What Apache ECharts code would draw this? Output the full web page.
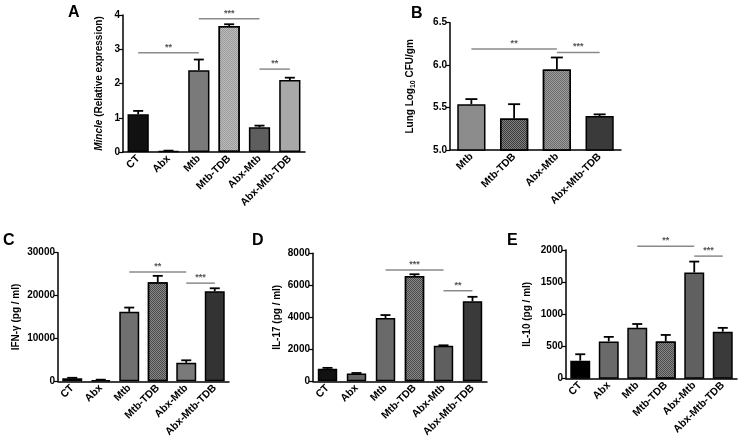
<!DOCTYPE html>
<html><head><meta charset="utf-8">
<script src="https://cdn.jsdelivr.net/npm/echarts@6/dist/echarts.min.js"></script>
<style>html,body{margin:0;padding:0;background:#fff}#c{width:754px;height:441px}</style>
</head><body><div id="c"></div>
<script>
// ---------- data ----------
const groups6 = ['CT','Abx','Mtb','Mtb-TDB','Abx-Mtb','Abx-Mtb-TDB'];
const groups4 = ['Mtb','Mtb-TDB','Abx-Mtb','Abx-Mtb-TDB'];

const mincleMean = [1.1, 0.03, 2.39, 3.68, 0.72, 2.1];
const mincleSem  = [0.1, 0.01, 0.31, 0.05, 0.05, 0.07];

const cfuMean = [5.54, 5.37, 5.95, 5.40];
const cfuSem  = [0.06, 0.17, 0.14, 0.02];

const ifnMean = [700, 300, 16200, 23100, 4300, 21000];
const ifnSem  = [120, 80, 1000, 1500, 600, 700];

const il17Mean = [780, 480, 3960, 6580, 2220, 5000];
const il17Sem  = [60, 40, 180, 110, 30, 280];

const il10Mean = [280, 580, 790, 580, 1650, 730];
const il10Sem  = [100, 70, 60, 100, 170, 60];

// significance brackets: [fromIndex, toIndex, value, label]
const sigA = [[0, 1.9, 2.9, '**'], [2.1, 3.92, 3.89, '***'], [4.05, 5.1, 2.42, '**']];
const sigB = [[-0.05, 1.98, 6.19, '**'], [1.98, 3.03, 6.15, '***']];
const sigC = [[2.1, 4.1, 25500, '**'], [4.06, 5.0, 22900, '***']];
const sigD = [[2.09, 4.05, 6950, '***'], [3.91, 5.02, 5660, '**']];
const sigE = [[1.99, 3.96, 2060, '**'], [3.85, 5.0, 1905, '***']];

// ---------- styles ----------
const pat = {symbol:'rect', symbolSize:1, dashArrayX:[[1,1],[0,1,1,0]], dashArrayY:[1,0], color:'rgba(255,255,255,0.35)'};
const fillsA = ['#111','#555','#7a7a7a','#9a9a9a','#5e5e5e','#a8a8a8'];
const decA   = [0,0,0,1,0,0];
const fillsB = ['#8c8c8c','#3c3c3c','#6a6a6a','#3a3a3a'];
const decB   = [0,1,1,0];
const fillsC = ['#111','#444','#707070','#4a4a4a','#7a7a7a','#333'];
const decC   = [0,0,0,1,0,0];
const fillsD = ['#111','#666','#6a6a6a','#4a4a4a','#5f5f5f','#3a3a3a'];
const decD   = [0,0,0,1,0,0];
const fillsE = ['#000','#6a6a6a','#6e6e6e','#4a4a4a','#606060','#3a3a3a'];
const decE   = [0,0,0,1,0,0];

const FONT = '"Liberation Sans", Arial, sans-serif';

const panels = [
  {cats:groups6, mean:mincleMean, sem:mincleSem, sig:sigA, fills:fillsA, dec:decA,
   grid:{left:123, top:15, width:182, height:137}, min:0, max:4, interval:1, fmt:v=>String(v),
   name:'{i|Mincle} (Relative expression)', nameGap:19, barWidth:'70%', cap:5},
  {cats:groups4, mean:cfuMean, sem:cfuSem, sig:sigB, fills:fillsB, dec:decB,
   grid:{left:450, top:22.7, width:171, height:127.3}, min:5, max:6.5, interval:0.5, fmt:v=>v.toFixed(1),
   name:'Lung Log{s|10} CFU/gm', nameGap:33, barWidth:'66%', cap:6},
  {cats:groups6, mean:ifnMean, sem:ifnSem, sig:sigC, fills:fillsC, dec:decC,
   grid:{left:58, top:252.7, width:171, height:128.6}, min:0, max:30000, interval:10000, fmt:v=>String(v),
   name:'IFN-γ (pg / ml)', nameGap:37, barWidth:'70%', cap:5},
  {cats:groups6, mean:il17Mean, sem:il17Sem, sig:sigD, fills:fillsD, dec:decD,
   grid:{left:313, top:253.3, width:174, height:128}, min:0, max:8000, interval:2000, fmt:v=>String(v),
   name:'IL-17 (pg / ml)', nameGap:31, barWidth:'67%', cap:5},
  {cats:groups6, mean:il10Mean, sem:il10Sem, sig:sigE, fills:fillsE, dec:decE,
   grid:{left:566, top:250, width:171, height:128.7}, min:0, max:2000, interval:500, fmt:v=>String(v),
   name:'IL-10 (pg / ml)', nameGap:34, barWidth:'70%', cap:5}
];

const grids = [], xAxes = [], yAxes = [], series = [];
panels.forEach((p, k) => {
  grids.push(Object.assign({containLabel:false}, p.grid));
  xAxes.push({type:'category', gridIndex:k, data:p.cats,
    axisLine:{lineStyle:{color:'#000', width:1.5}},
    axisTick:{alignWithLabel:true, length:4, lineStyle:{color:'#000', width:1.2}},
    axisLabel:{interval:0, rotate:45, color:'#000', fontWeight:'bold', fontSize:10.5, fontFamily:FONT, margin:5}
  });
  yAxes.push({type:'value', gridIndex:k, min:p.min, max:p.max, interval:p.interval,
    splitLine:{show:false},
    axisLine:{show:true, lineStyle:{color:'#000', width:1.5}},
    axisTick:{show:true, length:4, lineStyle:{color:'#000', width:1.2}},
    axisLabel:{color:'#000', fontWeight:'bold', fontSize:10, fontFamily:FONT, margin:3, formatter:p.fmt},
    name:p.name, nameLocation:'middle', nameRotate:90, nameGap:p.nameGap,
    nameTextStyle:{color:'#000', fontWeight:'bold', fontSize:10, fontFamily:FONT,
      rich:{i:{fontStyle:'italic', fontWeight:'bold', fontSize:10, fontFamily:FONT, color:'#000'},
            s:{fontSize:7, fontWeight:'bold', fontFamily:FONT, color:'#000', padding:[6,0,0,0]}}}
  });
  series.push({type:'bar', xAxisIndex:k, yAxisIndex:k, barWidth:p.barWidth, animation:false,
    data:p.mean.map((v,i)=>({value:v, itemStyle:{color:p.fills[i], borderColor:'#000', borderWidth:1.5,
      decal: p.dec[i] ? pat : null}}))
  });
  // error bars (upper only)
  series.push({type:'custom', xAxisIndex:k, yAxisIndex:k, animation:false, z:5,
    data:p.mean.map((v,i)=>[i, v, v + p.sem[i]]),
    renderItem:(params, api)=>{
      const base = api.coord([api.value(0), api.value(1)]);
      const top = api.coord([api.value(0), api.value(2)]);
      const c = p.cap;
      return {type:'group', children:[
        {type:'line', shape:{x1:base[0], y1:base[1], x2:top[0], y2:top[1]}, style:{stroke:'#000', lineWidth:1.8}},
        {type:'line', shape:{x1:top[0]-c, y1:top[1], x2:top[0]+c, y2:top[1]}, style:{stroke:'#000', lineWidth:1.8}}
      ]};
    }
  });
  // significance brackets
  series.push({type:'custom', xAxisIndex:k, yAxisIndex:k, animation:false, z:6, clip:false,
    data:p.sig.map(s=>[s[0], s[1], s[2], s[3]]),
    renderItem:(params, api)=>{
      const a = api.coord([api.value(0), api.value(2)]);
      const b = api.coord([api.value(1), api.value(2)]);
      const lbl = p.sig[params.dataIndex][3];
      return {type:'group', children:[
        {type:'line', shape:{x1:a[0], y1:a[1], x2:b[0], y2:b[1]}, style:{stroke:'#8a8a8a', lineWidth:1.5}},
        {type:'text', style:{x:(a[0]+b[0])/2, y:a[1]-1, text:lbl, fill:'#555', font:'bold 9px '+FONT,
          textAlign:'center', textVerticalAlign:'bottom'}}
      ]};
    }
  });
});

const letters = [['A',68,5],['B',411,6],['C',3,233],['D',252,233],['E',507,233]];
const graphic = letters.map(l=>({type:'text', left:l[1], top:l[2],
  style:{text:l[0], fill:'#000', font:'bold 16px '+FONT}}));

const chart = echarts.init(document.getElementById('c'), null, {renderer:'canvas'});
chart.setOption({animation:false, grid:grids, xAxis:xAxes, yAxis:yAxes, series:series, graphic:graphic});
</script>
</body></html>
